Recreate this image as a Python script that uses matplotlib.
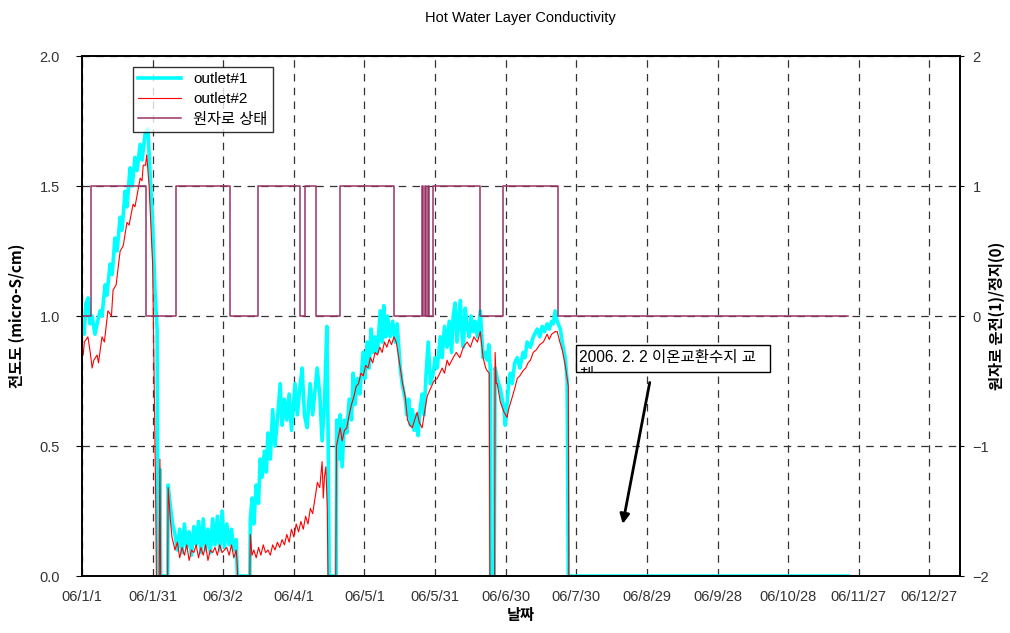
import matplotlib
matplotlib.use('Agg')  # use non-interactive backend
import matplotlib.pyplot as plt
from matplotlib.patches import Rectangle
from matplotlib.transforms import Bbox, TransformedBbox

plt.rcParams['font.family'] = ['Liberation Sans', 'Noto Sans CJK KR']

# x values are days since 2006-01-01
tick_days = [0, 30, 60, 90, 120, 150, 180, 210, 240, 270, 300, 330, 360]
tick_labels = ['06/1/1', '06/1/31', '06/3/2', '06/4/1', '06/5/1', '06/5/31', '06/6/30',
               '06/7/30', '06/8/29', '06/9/28', '06/10/28', '06/11/27', '06/12/27']

# outlet#1 conductivity (micro-S/cm)
out1_day = [0, 0.9, 1.7, 2.6, 3.4, 4.3, 5.5, 6.4, 7.7, 8.5, 9.8, 10.6, 11.9, 12.8, 14.0, 14.9,
            16.2, 17.0, 18.3, 19.1, 20.4, 21.3, 22.5, 23.4, 24.7, 25.5, 26.8, 28.0, 28.9, 29.8,
            31.0, 31.9, 32.3, 32.9, 33.1, 33.4, 36.4, 36.6, 37.5, 38.5,
            39.5, 40.5, 41.5, 42.5, 43.5, 44.5, 45.5, 46.5, 47.5, 48.5, 49.5, 50.5, 51.5, 52.5,
            53.5, 54.5, 55.5, 56.5, 57.5, 58.5, 59.5, 60.5, 61.5, 62.5, 63.5, 64.5, 65.5, 66.0,
            71.3, 71.5, 72.3, 73.0, 74.0, 75.0, 75.7, 76.5, 77.5, 78.3, 79.0, 80.0, 81.0, 82.0,
            83.0, 84.2, 85.0, 86.0, 87.0, 88.0, 89.0, 90.5, 91.5, 92.5, 93.5, 94.5, 95.6, 96.9,
            98.0, 99.9, 101.0, 102.0, 103.0, 104.0, 104.6, 105.0, 108.0,
            108.2, 109.0, 109.7, 110.5, 111.5, 112.5, 113.5, 114.5, 115.2, 116.0, 117.0, 118.0,
            119.4, 120.2, 121.1, 122.0, 122.8, 123.7, 124.5, 125.5, 126.7, 127.5, 128.2, 129.0,
            129.8, 130.9, 132.0, 133.0, 133.9, 135.2, 136.0, 137.3, 138.0, 138.8, 139.5, 140.3,
            141.2, 142.0, 142.8, 143.6, 144.5, 145.3, 146.2, 147.1, 148.0, 149.2, 150.0, 150.9,
            152.2, 153.0, 154.0, 155.1, 156.0, 157.0, 157.7, 158.5, 159.3, 160.0, 160.7, 161.5,
            162.0, 162.8, 163.6, 164.5, 165.3, 166.2, 167.0, 168.0, 169.2, 170.0, 170.4, 171.2,
            172.1, 172.8, 173.4, 173.6, 175.1,
            175.5, 176.4, 177.0, 177.7, 178.5, 179.3, 179.8, 180.6, 181.2, 181.9, 182.8, 183.8,
            184.9, 186.0, 187.4, 188.2, 189.1, 190.5, 191.7, 193.4, 194.5, 195.5, 196.5, 197.6,
            198.5, 199.5, 200.2, 201.0, 201.9, 203.2, 204.0, 205.3, 206.1, 206.6, 325.6]
out1_val = [0.97, 0.93, 1.05, 1.07, 0.97, 1.00, 0.93, 0.97, 1.02, 1.00, 1.12, 1.08, 1.20, 1.16, 1.30, 1.25,
            1.38, 1.33, 1.48, 1.42, 1.57, 1.50, 1.61, 1.56, 1.66, 1.60, 1.70, 1.72, 1.55, 1.40,
            1.10, 0.95, 0.0, 0.0, 0.41, 0.0, 0.0, 0.35, 0.27, 0.20,
            0.16, 0.10, 0.18, 0.09, 0.20, 0.11, 0.17, 0.08, 0.19, 0.12, 0.21, 0.09, 0.22, 0.10,
            0.18, 0.09, 0.22, 0.12, 0.23, 0.10, 0.25, 0.11, 0.20, 0.12, 0.18, 0.10, 0.14, 0.0,
            0.0, 0.22, 0.30, 0.20, 0.35, 0.28, 0.45, 0.38, 0.48, 0.40, 0.55, 0.45, 0.64, 0.50,
            0.60, 0.74, 0.58, 0.68, 0.60, 0.70, 0.56, 0.74, 0.62, 0.72, 0.80, 0.62, 0.57, 0.74,
            0.62, 0.80, 0.70, 0.52, 0.66, 0.96, 0.50, 0.0, 0.0,
            0.60, 0.45, 0.62, 0.42, 0.60, 0.55, 0.68, 0.60, 0.78, 0.66, 0.76, 0.70,
            0.86, 0.76, 0.90, 0.80, 0.95, 0.86, 0.92, 0.86, 1.02, 0.90, 1.04, 0.92,
            1.00, 0.92, 0.98, 0.90, 0.97, 0.80, 0.74, 0.68, 0.62, 0.68, 0.58, 0.64,
            0.56, 0.62, 0.54, 0.64, 0.70, 0.62, 0.78, 0.90, 0.74, 0.78, 0.84, 0.80,
            0.92, 0.84, 0.96, 0.88, 0.98, 0.86, 1.00, 1.05, 0.90, 0.98, 1.06, 0.92,
            0.88, 1.03, 0.96, 0.92, 1.00, 0.94, 0.98, 0.92, 1.02, 0.90, 0.84, 0.86,
            0.83, 0.89, 0.80, 0.0, 0.0,
            0.80, 0.76, 0.74, 0.72, 0.68, 0.64, 0.58, 0.66, 0.74, 0.78, 0.74, 0.82,
            0.84, 0.80, 0.86, 0.84, 0.90, 0.88, 0.92, 0.95, 0.92, 0.96, 0.94, 0.97,
            0.95, 0.98, 0.97, 1.02, 0.98, 0.95, 0.90, 0.84, 0.75, 0.0, 0.0]

# outlet#2 conductivity (micro-S/cm)
out2_day = [0, 0.5, 1.0, 2.5, 3.5, 4.3, 5.0, 6.4, 7.0, 8.5, 9.5, 11.0, 12.5, 13.2, 14.5, 16.2,
            17.5, 19.1, 20.0, 21.7, 22.5, 24.7, 25.5, 26.0, 27.0, 27.5, 28.5, 30.0, 31.3, 31.6,
            32.8, 33.1, 33.4, 36.4, 36.6, 37.5, 38.2, 39.0,
            39.5, 40.5, 41.5, 42.5, 43.5, 44.5, 45.5, 46.5, 47.5, 48.5, 49.5, 50.5, 51.5, 52.5,
            53.5, 54.5, 55.5, 56.5, 57.5, 58.5, 59.5, 60.5, 61.5, 62.5, 63.5, 64.5, 65.5, 65.9,
            66.1, 71.3, 71.5, 72.2, 73.0, 74.0, 75.0, 76.0, 77.0, 78.0, 79.0, 80.0, 81.0, 82.0,
            83.0, 84.0, 85.0, 86.0, 87.0, 88.0, 89.0, 90.0, 91.0, 92.0, 93.0, 94.0, 95.0, 96.0,
            97.0, 98.0, 99.0, 100.0, 101.0, 102.0, 102.5, 103.0, 103.6, 104.2, 104.5, 107.8,
            108.1, 109.0, 109.7, 110.5, 111.5, 112.5, 113.5, 114.5, 115.5, 116.5, 117.5, 118.5,
            119.5, 120.5, 121.5, 122.5, 123.5, 124.5, 125.5, 126.5, 127.5, 128.5, 129.5, 130.5,
            131.5, 132.5, 133.5, 134.2, 135.2, 136.2, 137.3, 138.3, 139.3, 140.3, 141.3, 142.4,
            143.3, 144.5, 145.5, 146.6, 147.5, 148.5, 149.5, 150.9, 152.0, 153.0, 154.0, 155.1,
            156.0, 157.7, 159.0, 160.5, 162.0, 163.6, 165.0, 166.5, 168.0, 169.2, 170.4, 171.5,
            172.1, 173.0, 173.3, 175.3, 175.5, 176.0, 176.4, 177.7, 178.5, 179.3, 180.6, 181.2,
            182.8, 183.8, 184.9, 186.0, 187.4, 188.5, 189.5, 190.5, 191.7, 193.0, 194.5, 196.0,
            197.6, 198.5, 199.5, 201.0, 201.9, 203.0, 204.0, 205.3, 206.1, 206.6, 206.8]
out2_val = [0.88, 0.85, 0.90, 0.92, 0.86, 0.80, 0.83, 0.85, 0.82, 0.92, 0.90, 1.02, 1.00, 1.10, 1.12, 1.25,
            1.27, 1.36, 1.35, 1.43, 1.42, 1.53, 1.52, 1.58, 1.58, 1.62, 1.50, 1.20, 0.30, 0.0,
            0.0, 0.45, 0.0, 0.0, 0.34, 0.22, 0.15, 0.12,
            0.10, 0.13, 0.07, 0.11, 0.08, 0.12, 0.06, 0.10, 0.09, 0.12, 0.07, 0.11, 0.08, 0.12,
            0.06, 0.10, 0.09, 0.11, 0.08, 0.12, 0.09, 0.10, 0.11, 0.08, 0.12, 0.07, 0.10, 0.05,
            0.0, 0.0, 0.16, 0.08, 0.10, 0.07, 0.11, 0.08, 0.12, 0.09, 0.10, 0.08, 0.12, 0.10,
            0.13, 0.11, 0.14, 0.12, 0.16, 0.13, 0.18, 0.15, 0.20, 0.17, 0.21, 0.18, 0.23, 0.20,
            0.26, 0.24, 0.30, 0.36, 0.34, 0.44, 0.30, 0.38, 0.42, 0.26, 0.0, 0.0,
            0.50, 0.54, 0.57, 0.52, 0.56, 0.57, 0.62, 0.66, 0.69, 0.73, 0.74, 0.78,
            0.77, 0.81, 0.80, 0.84, 0.82, 0.86, 0.85, 0.88, 0.86, 0.90, 0.88, 0.91,
            0.89, 0.92, 0.90, 0.86, 0.80, 0.74, 0.69, 0.60, 0.58, 0.57, 0.60, 0.63,
            0.59, 0.57, 0.63, 0.69, 0.71, 0.73, 0.75, 0.76, 0.78, 0.80, 0.78, 0.83,
            0.81, 0.84, 0.86, 0.84, 0.88, 0.90, 0.88, 0.92, 0.90, 0.94, 0.84, 0.80,
            0.79, 0.78, 0.0, 0.0, 0.86, 0.74, 0.74, 0.67, 0.65, 0.63, 0.61, 0.64,
            0.69, 0.72, 0.76, 0.77, 0.79, 0.80, 0.82, 0.83, 0.86, 0.87, 0.89, 0.90,
            0.93, 0.91, 0.93, 0.94, 0.94, 0.90, 0.87, 0.81, 0.76, 0.73, 0.0]

# reactor status: 1 = operating, 0 = stopped (changes at these days)
reactor_day = [0, 3.8, 27.1, 39.8, 63.0, 74.7, 92.7, 94.8, 99.6, 109.8, 132.7, 144.4, 144.9,
               145.8, 146.2, 147.1, 147.5, 148.9, 169.2, 178.8, 202.3, 325.6]
reactor_state = [0, 1, 0, 1, 0, 1, 0, 1, 0, 1, 0, 1, 0, 1, 0, 1, 0, 1, 0, 1, 0, 0]

fig = plt.figure(figsize=(10.1, 6.33), dpi=100)
ax = fig.add_axes([0.0812, 0.090, 0.8693, 0.8215])
ax2 = ax.twinx()

l1, = ax.plot(out1_day, out1_val, color='#00FFFF', lw=2.6, label='outlet#1')
l2, = ax.plot(out2_day, out2_val, color='#FF0000', lw=0.8, label='outlet#2')
l3, = ax2.plot(reactor_day, reactor_state, color='#993366', lw=1.1, drawstyle='steps-post',
               label='원자로 상태')

ax.set_xlim(0, 373)
ax.set_ylim(0, 2.0)
ax2.set_ylim(-2, 2)
ax.set_xticks(tick_days)
ax.set_xticklabels(tick_labels)
ax.set_yticks([0, 0.5, 1.0, 1.5, 2.0])
ax.set_yticklabels(['0.0', '0.5', '1.0', '1.5', '2.0'])
ax2.set_yticks([-2, -1, 0, 1, 2])
ax2.set_yticklabels(['\u22122', '\u22121', '0', '1', '2'])

ax.grid(True, color='#333333', lw=0.9, linestyle=(0, (6, 5)))
ax.tick_params(axis='x', length=0, pad=10, labelsize=10.5, labelcolor='#333333')
ax.tick_params(axis='y', length=4, direction='out', labelsize=10.5, labelcolor='#333333', pad=12)
ax2.tick_params(axis='y', length=3, direction='out', labelsize=10.5, labelcolor='#333333', pad=6)
for sp in ax.spines.values():
    sp.set_linewidth(1.2)
for sp in ax2.spines.values():
    sp.set_linewidth(1.2)

ax.set_xlabel('날짜', fontsize=11, fontweight='bold', family=['Noto Sans CJK KR'], labelpad=2)
ax.set_ylabel('전도도 (micro-S/cm)', fontsize=11, fontweight='bold',
              family=['Noto Sans CJK KR'], labelpad=10)
ax2.set_ylabel('원자로 운전(1)/정지(0)', fontsize=11, fontweight='bold',
               family=['Noto Sans CJK KR'])
ax2.yaxis.set_label_coords(1.033, 0.5)
fig.text(0.515, 0.972, 'Hot Water Layer Conductivity', ha='center', va='center', fontsize=10.5)

leg = ax2.legend(handles=[l1, l2, l3], loc='upper left', bbox_to_anchor=(0.058, 0.979),
                 fontsize=11, frameon=True, fancybox=False, edgecolor='black',
                 borderpad=0.35, labelspacing=0.4, handlelength=2.8, borderaxespad=0)
leg.get_frame().set_linewidth(1.0)
for t in leg.get_texts():
    t.set_family(['Liberation Sans', 'Noto Sans CJK KR'])

# annotation box with arrow
box_x0, box_y0, box_w, box_h = 210, 0.785, 82.4, 0.103
box = Rectangle((box_x0, box_y0), box_w, box_h, transform=ax.transData, facecolor='white',
                edgecolor='black', lw=1.0, zorder=5)
ax.add_patch(box)
note = ax.text(211.2, 0.870, '2006. 2. 2 이온교환수지 교\n체', fontsize=11.2, va='top', ha='left',
               linespacing=1.15, zorder=6, family=['Liberation Sans', 'Noto Sans CJK KR'])
note.set_clip_on(True)
note.set_clip_box(TransformedBbox(Bbox.from_bounds(box_x0, box_y0, box_w, box_h), ax.transData))
ax.annotate('', xy=(229.5, 0.19), xytext=(241.4, 0.755),
            arrowprops=dict(arrowstyle='-|>', color='black', lw=2, mutation_scale=14))

plt.savefig('out.png', dpi=100)
